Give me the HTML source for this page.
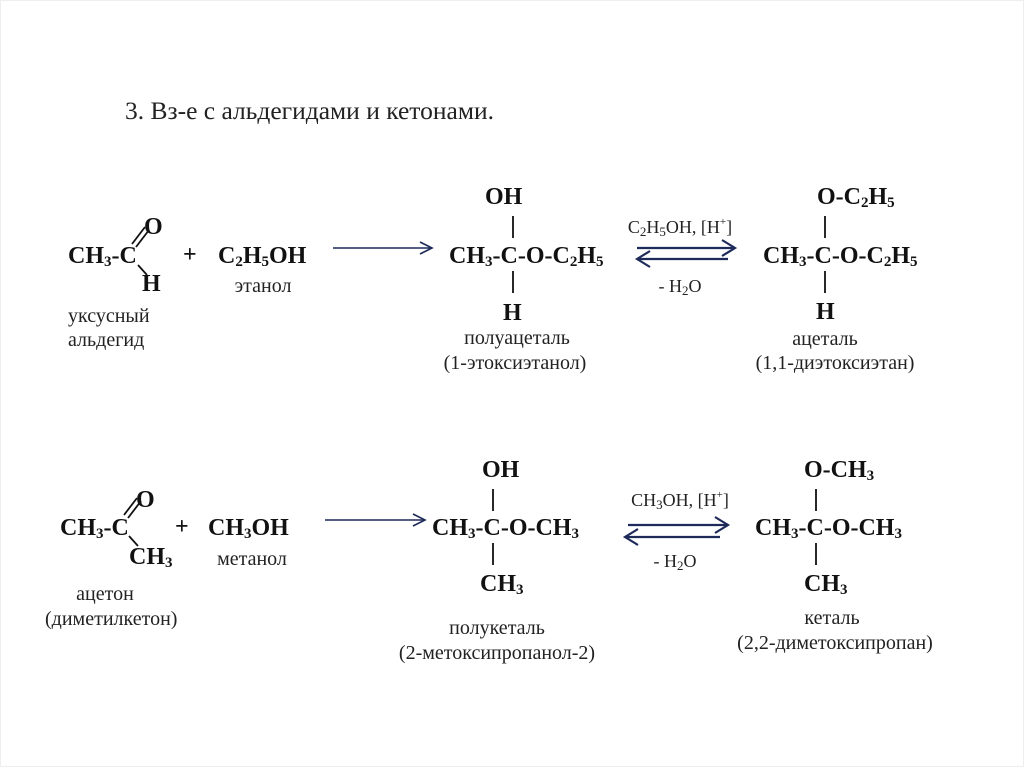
<!DOCTYPE html>
<html><head><meta charset="utf-8"><style>
html,body{margin:0;padding:0;background:#fff;}
svg{display:block;}
.b{font-family:"Liberation Serif",serif;font-weight:bold;font-size:24px;fill:#111;}
.n{font-family:"Liberation Serif",serif;font-size:20px;fill:#222;}
.s{font-size:15px;}
.e{font-family:"Liberation Serif",serif;font-size:18px;fill:#222;}
.es{font-size:13px;}
</style></head><body>
<svg width="1024" height="767" viewBox="0 0 1024 767" xmlns="http://www.w3.org/2000/svg">
<rect x="0.5" y="0.5" width="1023" height="766" fill="#fff" stroke="#eee"/>
<text x="125" y="119" font-family="Liberation Serif,serif" font-size="25.5" fill="#222">3.   Вз-е с альдегидами и кетонами.</text>

<g stroke="#111" stroke-width="1.8" fill="none">
<line x1="132" y1="244" x2="145" y2="227"/><line x1="136" y1="247" x2="149" y2="230"/>
<line x1="138" y1="265" x2="147" y2="275"/>
<line x1="124" y1="515" x2="137" y2="498"/><line x1="128" y1="518" x2="141" y2="501"/>
<line x1="129" y1="536" x2="138" y2="546"/>
<line x1="513" y1="216" x2="513" y2="238"/><line x1="513" y1="271" x2="513" y2="293"/>
<line x1="825" y1="216" x2="825" y2="238"/><line x1="825" y1="271" x2="825" y2="293"/>
<line x1="493" y1="489" x2="493" y2="511"/><line x1="493" y1="543" x2="493" y2="565"/>
<line x1="816" y1="489" x2="816" y2="511"/><line x1="816" y1="543" x2="816" y2="565"/>
</g>

<g stroke="#1e2a5a" stroke-width="1.6" fill="none">
<line x1="333" y1="248" x2="432" y2="248"/><polyline points="420,242 432,248 420,254"/>
<line x1="325" y1="520" x2="425" y2="520"/><polyline points="413,514 425,520 413,526"/>
<g stroke-width="2.2">
<line x1="637" y1="248" x2="735" y2="248"/><polyline points="722,240 735,248 722,256"/>
<line x1="637" y1="259" x2="728" y2="259"/><polyline points="650,251 637,259 650,267"/>
<line x1="628" y1="525" x2="728" y2="525"/><polyline points="715,517 728,525 715,533"/>
<line x1="625" y1="537" x2="720" y2="537"/><polyline points="638,529 625,537 638,545"/>
</g>
</g>

<!-- row 1 -->
<text class="b" x="68" y="263">CH<tspan class="s" dy="3">3</tspan><tspan dy="-3">-C</tspan></text>
<text class="b" x="144" y="234">O</text>
<text class="b" x="142" y="291">H</text>
<text class="b" x="183" y="262">+</text>
<text class="b" x="218" y="263">C<tspan class="s" dy="3">2</tspan><tspan dy="-3">H</tspan><tspan class="s" dy="3">5</tspan><tspan dy="-3">OH</tspan></text>
<text class="n" x="263" y="292" text-anchor="middle">этанол</text>
<text class="n" x="68" y="322">уксусный</text>
<text class="n" x="68" y="346">альдегид</text>

<text class="b" x="485" y="204">OH</text>
<text class="b" x="449" y="263">CH<tspan class="s" dy="3">3</tspan><tspan dy="-3">-C-O-C</tspan><tspan class="s" dy="3">2</tspan><tspan dy="-3">H</tspan><tspan class="s" dy="3">5</tspan></text>
<text class="b" x="503" y="320">H</text>
<text class="n" x="517" y="344" text-anchor="middle">полуацеталь</text>
<text class="n" x="515" y="369" text-anchor="middle">(1-этоксиэтанол)</text>

<text class="e" x="680" y="233" text-anchor="middle">C<tspan class="es" dy="3">2</tspan><tspan dy="-3">H</tspan><tspan class="es" dy="3">5</tspan><tspan dy="-3">OH, [H</tspan><tspan font-size="11" dy="-8">+</tspan><tspan dy="8">]</tspan></text>
<text class="e" x="680" y="292" text-anchor="middle">- H<tspan class="es" dy="3">2</tspan><tspan dy="-3">O</tspan></text>

<text class="b" x="817" y="204">O-C<tspan class="s" dy="3">2</tspan><tspan dy="-3">H</tspan><tspan class="s" dy="3">5</tspan></text>
<text class="b" x="763" y="263">CH<tspan class="s" dy="3">3</tspan><tspan dy="-3">-C-O-C</tspan><tspan class="s" dy="3">2</tspan><tspan dy="-3">H</tspan><tspan class="s" dy="3">5</tspan></text>
<text class="b" x="816" y="319">H</text>
<text class="n" x="825" y="345" text-anchor="middle">ацеталь</text>
<text class="n" x="835" y="369" text-anchor="middle">(1,1-диэтоксиэтан)</text>

<!-- row 2 -->
<text class="b" x="60" y="535">CH<tspan class="s" dy="3">3</tspan><tspan dy="-3">-C</tspan></text>
<text class="b" x="136" y="507">O</text>
<text class="b" x="129" y="564">CH<tspan class="s" dy="3">3</tspan></text>
<text class="b" x="175" y="534">+</text>
<text class="b" x="208" y="535">CH<tspan class="s" dy="3">3</tspan><tspan dy="-3">OH</tspan></text>
<text class="n" x="252" y="565" text-anchor="middle">метанол</text>
<text class="n" x="105" y="600" text-anchor="middle">ацетон</text>
<text class="n" x="45" y="625">(диметилкетон)</text>

<text class="b" x="482" y="477">OH</text>
<text class="b" x="432" y="535">CH<tspan class="s" dy="3">3</tspan><tspan dy="-3">-C-O-CH</tspan><tspan class="s" dy="3">3</tspan></text>
<text class="b" x="480" y="591">CH<tspan class="s" dy="3">3</tspan></text>
<text class="n" x="497" y="634" text-anchor="middle">полукеталь</text>
<text class="n" x="497" y="659" text-anchor="middle">(2-метоксипропанол-2)</text>

<text class="e" x="680" y="506" text-anchor="middle">CH<tspan class="es" dy="3">3</tspan><tspan dy="-3">OH, [H</tspan><tspan font-size="11" dy="-8">+</tspan><tspan dy="8">]</tspan></text>
<text class="e" x="675" y="567" text-anchor="middle">- H<tspan class="es" dy="3">2</tspan><tspan dy="-3">O</tspan></text>

<text class="b" x="804" y="477">O-CH<tspan class="s" dy="3">3</tspan></text>
<text class="b" x="755" y="535">CH<tspan class="s" dy="3">3</tspan><tspan dy="-3">-C-O-CH</tspan><tspan class="s" dy="3">3</tspan></text>
<text class="b" x="804" y="591">CH<tspan class="s" dy="3">3</tspan></text>
<text class="n" x="832" y="624" text-anchor="middle">кеталь</text>
<text class="n" x="835" y="649" text-anchor="middle">(2,2-диметоксипропан)</text>
</svg>
</body></html>
